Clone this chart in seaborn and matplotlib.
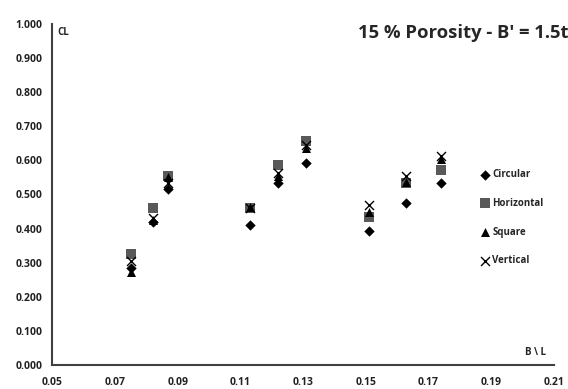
import matplotlib
matplotlib.use("Agg")
import matplotlib.pyplot as plt
import seaborn as sns
import pandas as pd

b_over_l = [0.075, 0.082, 0.087, 0.113, 0.122, 0.131, 0.151, 0.163, 0.174]
circular = [0.283, 0.420, 0.515, 0.410, 0.535, 0.593, 0.394, 0.476, 0.533]
horizontal = [0.325, 0.460, 0.555, 0.460, 0.586, 0.657, 0.435, 0.535, 0.572]
square = [0.274, 0.424, 0.550, 0.462, 0.555, 0.637, 0.450, 0.537, 0.603]
vertical = [0.305, 0.432, 0.535, 0.460, 0.563, 0.645, 0.468, 0.554, 0.612]

x_ticks = [0.05, 0.07, 0.09, 0.11, 0.13, 0.15, 0.17, 0.19, 0.21]
y_ticks = [0.0, 0.1, 0.2, 0.3, 0.4, 0.5, 0.6, 0.7, 0.8, 0.9, 1.0]

sns.set_style("white")
plt.rcParams['font.family'] = ['Open Sans', 'DejaVu Sans']

fig = plt.figure(figsize=(5.68, 3.89), dpi=100)
ax = fig.add_axes([0.092, 0.062, 0.883, 0.876])

series = [
    ("Circular", circular, "D", "#000000", 28),
    ("Horizontal", horizontal, "s", "#595959", 42),
    ("Square", square, "^", "#000000", 42),
    ("Vertical", vertical, "x", "#000000", 42),
]
for name, vals, mk, col, s in series:
    df = pd.DataFrame({"x": b_over_l, "y": vals})
    kw = dict(linewidth=1.0) if mk == "x" else dict(linewidth=0)
    sns.scatterplot(data=df, x="x", y="y", marker=mk, color=col, s=s,
                    ax=ax, label=name, **kw)

ax.set_xlim(0.05, 0.21)
ax.set_ylim(0, 1.0)
ax.set_xticks(x_ticks)
ax.set_xticklabels([f"{v:.2f}" for v in x_ticks])
ax.set_yticks(y_ticks)
ax.set_yticklabels([f"{v:.3f}" for v in y_ticks])
ax.set_xlabel("")
ax.set_ylabel("")
for side in ["top", "right"]:
    ax.spines[side].set_visible(False)
for side in ["left", "bottom"]:
    ax.spines[side].set_color("#404040")
    ax.spines[side].set_linewidth(1.5)
ax.tick_params(axis="both", direction="out", length=4, width=1, color="#404040",
               labelsize=7.5, pad=3)
ax.tick_params(axis="x", pad=5)
for lab in ax.get_xticklabels() + ax.get_yticklabels():
    lab.set_fontweight("bold")
    lab.set_color("#222222")

ax.text(0.011, 0.975, "CL", transform=ax.transAxes, fontsize=7, fontweight="bold",
        va="center", ha="left")
ax.text(0.963, 0.035, "B \\ L", transform=ax.transAxes, fontsize=7, fontweight="bold",
        va="center", ha="center")
fig.text(358 / 568, 1 - 33 / 389, "15 % Porosity - B' = 1.5t", fontsize=13.3,
         fontweight="bold", va="center", ha="left")

leg = ax.legend(loc="upper left", bbox_to_anchor=(0.835, 0.60), frameon=False,
                labelspacing=1.82, handletextpad=0.3, handlelength=1.0,
                prop={"weight": "bold", "size": 7})

fig.savefig("out.png", dpi=100, facecolor="white")
